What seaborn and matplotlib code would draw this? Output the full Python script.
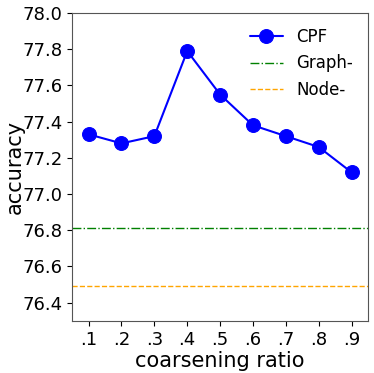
import matplotlib
matplotlib.use("Agg")
import matplotlib.pyplot as plt
import seaborn as sns
import pandas as pd

ratios = [1, 2, 3, 4, 5, 6, 7, 8, 9]
tick_labels = [".1", ".2", ".3", ".4", ".5", ".6", ".7", ".8", ".9"]
cpf = [77.33, 77.28, 77.32, 77.79, 77.55, 77.38, 77.32, 77.26, 77.12]
graph_baseline = 76.81
node_baseline = 76.49

sns.set_style("ticks")
plt.rcParams['font.family'] = ['DejaVu Sans']
plt.rcParams['text.color'] = 'black'
plt.rcParams['axes.labelcolor'] = 'black'
plt.rcParams['xtick.color'] = 'black'
plt.rcParams['ytick.color'] = 'black'

fig, ax = plt.subplots(figsize=(3.74, 3.73), dpi=100)
df = pd.DataFrame({"ratio": ratios, "acc": cpf})
sns.lineplot(data=df, x="ratio", y="acc", ax=ax, color="blue", marker="o",
             markersize=10, markeredgecolor="blue", linewidth=1.5, label="CPF")
ax.axhline(graph_baseline, color="green", linestyle="-.", linewidth=1, label="Graph-")
ax.axhline(node_baseline, color="orange", linestyle="--", linewidth=1, label="Node-")

ax.set_xlim(0.5, 9.5)
ax.set_ylim(76.3, 78.0)
ax.set_xticks(ratios)
ax.set_xticklabels(tick_labels)
ax.set_yticks([76.4, 76.6, 76.8, 77.0, 77.2, 77.4, 77.6, 77.8, 78.0])
ax.tick_params(labelsize=13, length=3.5, color="black")
ax.set_xlabel("coarsening ratio", fontsize=15, labelpad=2)
ax.set_ylabel("accuracy", fontsize=15, labelpad=-2)
ax.legend(frameon=False, fontsize=12, loc="upper right")
for s in ax.spines.values():
    s.set_color("#555555")

fig.subplots_adjust(left=0.193, right=0.984, top=0.965, bottom=0.14)
fig.savefig("out.png", dpi=100)
